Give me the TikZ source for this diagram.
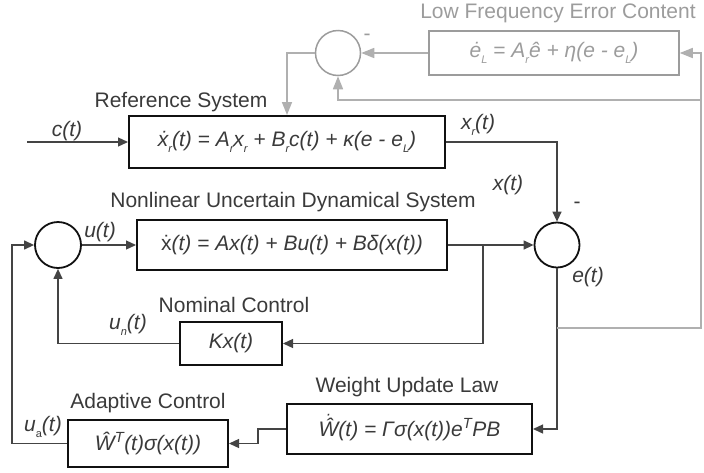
\documentclass[tikz,border=0pt]{standalone}
\usepackage{fontspec}
\setmainfont{Liberation Sans}
\usetikzlibrary{positioning, arrows.meta, calc}
\definecolor{cBox}{HTML}{111111}
\definecolor{cTxt}{HTML}{3A3A3A}
\definecolor{cWire}{HTML}{444444}
\definecolor{cFaint}{HTML}{9C9C9C}
\definecolor{cFaintL}{HTML}{B0B0B0}
\newcommand{\lo}[1]{\raisebox{-0.6ex}{\fontsize{11}{11}\selectfont #1}}
\newcommand{\Wdh}{\ooalign{Ŵ\cr\hidewidth\raisebox{0.78em}{\fontsize{16}{16}\selectfont·}\hidewidth}}

\begin{document}
\begin{tikzpicture}[x=1pt, y=-1pt,
    font=\fontsize{21}{24}\selectfont, text=cTxt,
    blk/.style={draw=cBox, line width=2pt, inner sep=0pt, font=\fontsize{21}{24}\selectfont\itshape},
    faintblk/.style={blk, draw=cFaint, line width=1.5pt, text=cFaint},
    sumc/.style={circle, draw=cBox, line width=1.8pt, inner sep=0pt},
    wire/.style={draw=cWire, line width=1.3pt, -{Triangle[length=10,width=9]}},
    faintwire/.style={draw=cFaintL, line width=1.6pt, -{Triangle[length=13,width=10]}},
    lbl/.style={font=\fontsize{21}{24}\selectfont\itshape}
  ]
    \useasboundingbox (0,0) rectangle (704,472);

    % blocks
    \node[faintblk, minimum width=250, minimum height=44] (lowf) at (554,53)
      {\.{e}\lo{L} = A\lo{r}ê + η(e - e\lo{L})};
    \node[blk, minimum width=316, minimum height=52] (ref) at (287,142)
      {\.{x}\lo{r}(t) = A\lo{r}x\lo{r} + B\lo{r}c(t) + κ(e - e\lo{L})};
    \node[blk, minimum width=310, minimum height=50] (nl) at (292,245)
      {{\upshape\.{x}}(t) = Ax(t) + Bu(t) + Bδ(x(t))};
    \node[blk, minimum width=102, minimum height=43] (kx) at (231,343.5) {Kx(t)};
    \node[blk, minimum width=245, minimum height=50] (wul) at (409.5,429)
      {\Wdh(t) = Γσ(x(t))e\textsuperscript{T}PB};
    \node[blk, minimum width=160, minimum height=47] (ada) at (148,443.5)
      {Ŵ\textsuperscript{T}(t)σ(x(t))};

    % summing junctions
    \node[sumc, draw=cFaint, line width=1.5pt, minimum size=45] (sumtop) at (338,53) {};
    \node[sumc, minimum size=46] (sumu) at (58,245) {};
    \node[sumc, minimum size=45] (sume) at (557,245) {};

    % titles
    \node[text=cFaint] (lowT) at (558,13) {Low Frequency Error Content};
    \node (refT) at (181,102) {Reference System};
    \node (nlT) at (293,202) {Nonlinear Uncertain Dynamical System};
    \node (nomT) at (234,305) {Nominal Control};
    \node (wulT) at (407,387) {Weight Update Law};
    \node (adaT) at (148,403) {Adaptive Control};

    % signal labels
    \node[lbl] (cL) at (67,131) {c(t)};
    \node[lbl] (xrL) at (478,125) {x\lo{r}(t)};
    \node[lbl] (xL) at (508,185) {x(t)};
    \node[lbl] (uL) at (100,232) {u(t)};
    \node[lbl] (unL) at (128,325) {u\lo{n}(t)};
    \node[lbl] (eL) at (588,277) {e(t)};
    \node[lbl] (uaL) at (43,427) {u{\upshape\lo{a}}(t)};
    \node (mE) at (577,205) {-};
    \node[text=cFaint] (mT) at (367,37) {-};

    % helper points
    \coordinate (cin) at (27,142);
    \coordinate (br) at (483,245);
    \coordinate (tap) at (557,328);
    \coordinate (farR) at (701,53);
    \coordinate (fb) at (701,100);
    \coordinate (jog) at (258,436);
    \coordinate (lft) at (12,443.5);

    % connectors
    \draw[wire] (cin) -- (ref.west);
    \draw[wire] (ref.east) -| (sume.north);
    \draw[wire] (sumu.east) -- (nl.west);
    \draw[wire] (nl.east) -- (sume.west);
    \draw[wire] (br) |- (kx.east);
    \draw[wire] (kx.west) -| (sumu.south);
    \draw[wire] (sume.south) |- (wul.east);
    \draw[wire] (wul.west) -| (jog) |- (ada.east);
    \draw[wire] (ada.west) -- (lft) |- (sumu.west);

    \draw[faintwire] (lowf.west) -- (sumtop.east);
    \draw[faintwire] (sumtop.west) -| (ref.north);
    \draw[faintwire] (tap) -| (farR) -- (lowf.east);
    \draw[faintwire] (fb) -| (sumtop.south);
\end{tikzpicture}
\end{document}
